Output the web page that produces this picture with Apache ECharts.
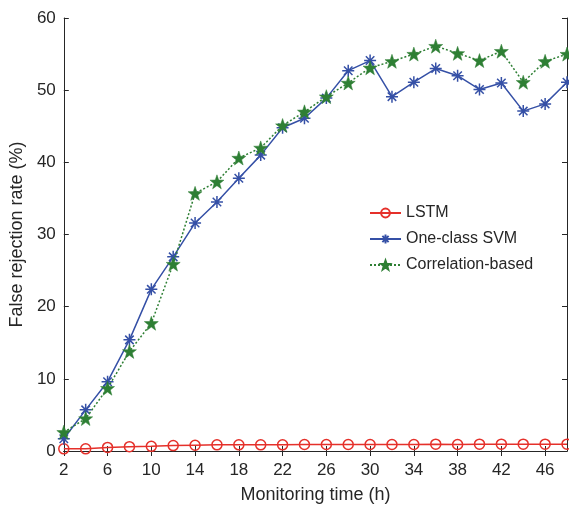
<!DOCTYPE html>
<html>
<head>
<meta charset="utf-8">
<script src="https://cdn.jsdelivr.net/npm/echarts@6/dist/echarts.min.js"></script>
<style>
  html, body { margin: 0; padding: 0; background: #fff; }
  #chart { width: 569px; height: 509px; }
</style>
</head>
<body>
<div id="chart"></div>
<script>
// Monitoring time (h)
const hours = [2, 4, 6, 8, 10, 12, 14, 16, 18, 20, 22, 24, 26, 28, 30, 32, 34, 36, 38, 40, 42, 44, 46, 48];
// False rejection rate (%) for each method
const lstm = [0.3, 0.3, 0.5, 0.6, 0.65, 0.75, 0.8, 0.85, 0.85, 0.85, 0.85, 0.9, 0.9, 0.9, 0.9, 0.9, 0.9, 0.95, 0.9, 0.95, 0.95, 0.95, 0.95, 0.95];
const svm = [1.7, 5.7, 9.6, 15.4, 22.4, 26.9, 31.6, 34.5, 37.8, 41.0, 44.8, 46.1, 48.9, 52.7, 54.1, 49.1, 51.1, 53.0, 52.0, 50.1, 51.0, 47.1, 48.1, 51.1];
const corr = [2.6, 4.5, 8.7, 13.8, 17.7, 25.9, 35.7, 37.3, 40.6, 42.0, 45.1, 47.0, 49.1, 51.0, 53.1, 54.0, 55.0, 56.1, 55.1, 54.1, 55.4, 51.1, 54.0, 55.0];
const seriesNames = ['LSTM', 'One-class SVM', 'Correlation-based'];

const RED = '#e5302a', BLUE = '#3550a6', GREEN = '#2e7f34', INK = '#262626';
const FONT = '"Liberation Sans", Arial, Helvetica, sans-serif';

// five-pointed star marker
function starPath() {
  const pts = [];
  for (let k = 0; k < 10; k++) {
    const a = (-90 + k * 36) * Math.PI / 180;
    const r = k % 2 === 0 ? 1 : 0.4;
    pts.push((r * Math.cos(a)).toFixed(4) + ',' + (r * Math.sin(a)).toFixed(4));
  }
  return 'path://M' + pts.join('L') + 'Z';
}
// eight-armed asterisk marker
const asterisk = 'path://M0,-1L0,1M-1,0L1,0M-0.707,-0.707L0.707,0.707M-0.707,0.707L0.707,-0.707';

const boxAxisLine = { show: true, lineStyle: { color: INK, width: 1 } };

const chart = echarts.init(document.getElementById('chart'), null, { renderer: 'canvas' });
chart.setOption({
  animation: false,
  backgroundColor: '#fff',
  grid: { left: 61, right: 2, top: 18, bottom: 54, containLabel: false },
  legend: {
    orient: 'vertical',
    left: 369,
    top: 205,
    padding: 0,
    itemWidth: 31,
    itemHeight: 11,
    itemGap: 10,
    data: seriesNames,
    textStyle: { fontFamily: FONT, fontSize: 16, color: INK, lineHeight: 16 }
  },
  xAxis: [
    {
      type: 'category',
      data: hours,
      boundaryGap: false,
      name: 'Monitoring time (h)',
      nameLocation: 'middle',
      nameGap: 35,
      nameTextStyle: { fontFamily: FONT, fontSize: 18, color: INK },
      axisLine: boxAxisLine,
      axisTick: { show: true, inside: true, length: 5, interval: 1, lineStyle: { color: INK } },
      axisLabel: { interval: 1, margin: 11, fontFamily: FONT, fontSize: 17, color: INK },
      splitLine: { show: false }
    },
    {
      type: 'category',
      data: hours,
      boundaryGap: false,
      position: 'top',
      axisLine: boxAxisLine,
      axisTick: { show: true, inside: true, length: 5, interval: 1, lineStyle: { color: INK } },
      axisLabel: { show: false },
      splitLine: { show: false }
    }
  ],
  yAxis: [
    {
      type: 'value',
      min: 0, max: 60, interval: 10,
      name: 'False rejection rate (%)',
      nameLocation: 'middle',
      nameGap: 35,
      nameTextStyle: { fontFamily: FONT, fontSize: 18, color: INK },
      axisLine: boxAxisLine,
      axisTick: { show: true, inside: true, length: 5, lineStyle: { color: INK } },
      axisLabel: { margin: 8, fontFamily: FONT, fontSize: 17, color: INK },
      splitLine: { show: false }
    },
    {
      type: 'value',
      min: 0, max: 60, interval: 10,
      position: 'right',
      axisLine: boxAxisLine,
      axisTick: { show: true, inside: true, length: 5, lineStyle: { color: INK } },
      axisLabel: { show: false },
      splitLine: { show: false }
    }
  ],
  series: [
    {
      name: seriesNames[0],
      type: 'line',
      data: lstm,
      showAllSymbol: true,
      symbol: 'circle',
      symbolSize: 10,
      itemStyle: { color: 'rgba(0,0,0,0)', borderColor: RED, borderWidth: 1.5 },
      lineStyle: { color: RED, width: 1.5 },
      z: 3
    },
    {
      name: seriesNames[1],
      type: 'line',
      data: svm,
      showAllSymbol: true,
      symbol: asterisk,
      symbolSize: 12,
      itemStyle: { color: BLUE, borderColor: BLUE, borderWidth: 1.5 },
      lineStyle: { color: BLUE, width: 1.5 },
      z: 4
    },
    {
      name: seriesNames[2],
      type: 'line',
      data: corr,
      showAllSymbol: true,
      symbol: starPath(),
      symbolSize: 14,
      itemStyle: { color: GREEN, borderColor: GREEN, borderWidth: 0.5 },
      lineStyle: { color: GREEN, width: 1.5, type: [2, 2] },
      z: 5
    }
  ]
});
</script>
</body>
</html>
